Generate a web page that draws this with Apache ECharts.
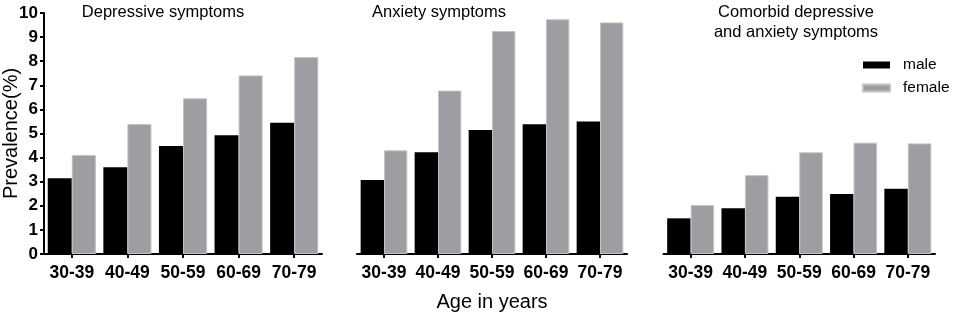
<!DOCTYPE html>
<html>
<head>
<meta charset="utf-8">
<script src="https://cdn.jsdelivr.net/npm/echarts@6/dist/echarts.min.js"></script>
<style>
  html, body { margin: 0; padding: 0; background: #fff; }
  #chart { width: 957px; height: 318px; }
</style>
</head>
<body>
<div id="chart"></div>
<script>
var ages = ['30-39', '40-49', '50-59', '60-69', '70-79'];
var panelTitles = ['Depressive symptoms', 'Anxiety symptoms', 'Comorbid depressive\nand anxiety symptoms'];

// prevalence (%) per panel
var depMale = [3.14, 3.6, 4.48, 4.93, 5.45];
var depFemale = [4.11, 5.39, 6.46, 7.41, 8.17];
var anxMale = [3.07, 4.22, 5.15, 5.38, 5.5];
var anxFemale = [4.3, 6.78, 9.25, 9.74, 9.61];
var comMale = [1.48, 1.9, 2.38, 2.49, 2.71];
var comFemale = [2.03, 3.27, 4.22, 4.62, 4.59];

var font = 'Liberation Sans, Arial, sans-serif';
var maleColor = '#000000';
var femaleColor = '#9e9da2';

var chart = echarts.init(document.getElementById('chart'));

var grids = [
  { left: 44, top: 13, width: 278, height: 241, outerBoundsMode: 'none' },
  { left: 357, top: 13, width: 270, height: 241, outerBoundsMode: 'none' },
  { left: 663.5, top: 13, width: 271.5, height: 241, outerBoundsMode: 'none' }
];
var titleX = [163, 439, 796];

var maleData = [depMale, anxMale, comMale];
var femaleData = [depFemale, anxFemale, comFemale];

var xAxes = [], yAxes = [], series = [], titles = [];
for (let i = 0; i < 3; i++) {
  xAxes.push({
    type: 'category',
    gridIndex: i,
    data: ages,
    axisLine: { lineStyle: { color: '#000', width: 2 } },
    axisTick: { show: true, length: 4, lineStyle: { color: '#000', width: 2 }, alignWithLabel: true },
    axisLabel: { color: '#000', fontFamily: font, fontWeight: 'bold', fontSize: 17.5, margin: 10, interval: 0 },
    name: i === 1 ? 'Age in years' : '',
    nameLocation: 'middle',
    nameGap: 38,
    nameTextStyle: { color: '#000', fontFamily: font, fontSize: 20 }
  });
  yAxes.push({
    type: 'value',
    gridIndex: i,
    min: 0,
    max: 10,
    interval: 1,
    show: i === 0,
    splitLine: { show: false },
    axisLine: { show: true, lineStyle: { color: '#000', width: 2 } },
    axisTick: { show: true, length: 4, lineStyle: { color: '#000', width: 2 } },
    axisLabel: { color: '#000', fontFamily: font, fontWeight: 'bold', fontSize: 17, margin: 6 },
    name: i === 0 ? 'Prevalence(%)' : '',
    nameLocation: 'middle',
    nameGap: 23,
    nameMoveOverlap: false,
    nameTextStyle: { color: '#000', fontFamily: font, fontSize: 20 }
  });
  series.push({
    name: 'male',
    type: 'bar',
    xAxisIndex: i,
    yAxisIndex: i,
    data: maleData[i],
    barGap: '0%',
    barCategoryGap: '13.5%',
    itemStyle: { color: maleColor }
  });
  series.push({
    name: 'female',
    type: 'bar',
    xAxisIndex: i,
    yAxisIndex: i,
    data: femaleData[i],
    barGap: '0%',
    barCategoryGap: '13.5%',
    itemStyle: { color: femaleColor, borderColor: '#c2c2c4', borderWidth: 1 }
  });
  titles.push({
    text: panelTitles[i],
    left: titleX[i],
    top: 3,
    textAlign: 'center',
    padding: 0,
    textStyle: { color: '#000', fontFamily: font, fontSize: 16.5, fontWeight: 'normal', lineHeight: 19.5 }
  });
}

var option = {
  animation: false,
  title: titles,
  legend: {
    orient: 'vertical',
    left: 862,
    top: 57,
    itemWidth: 27,
    itemHeight: 7,
    itemGap: 7,
    padding: 0,
    icon: 'rect',
    data: ['male', 'female'],
    textStyle: { color: '#000', fontFamily: font, fontSize: 15.5, padding: [0, 0, 0, 8] }
  },
  grid: grids,
  xAxis: xAxes,
  yAxis: yAxes,
  series: series
};

chart.setOption(option);
</script>
</body>
</html>
